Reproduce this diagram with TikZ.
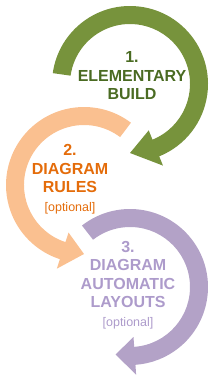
\documentclass[tikz,border=0pt]{standalone}
\usepackage{fontspec}
\setmainfont{Liberation Sans}
\usetikzlibrary{positioning}
\definecolor{buildring}{HTML}{77933C}
\definecolor{buildtext}{HTML}{4A6B22}
\definecolor{rulesring}{HTML}{FAC090}
\definecolor{rulestext}{HTML}{E46C0A}
\definecolor{layoutring}{HTML}{B3A2C7}
\definecolor{layouttext}{HTML}{AD9BCB}

% ring arrow: colour, centre, start angle, end angle, tip angle
\newcommand{\ringarrow}[5]{%
  \begin{scope}[shift={#2}]
    \fill[#1] (#3:78) arc[start angle=#3, end angle=#4, radius=78]
      -- (#4:88) -- (#5:69) -- (#4:50) -- (#4:60)
      arc[start angle=#4, end angle=#3, radius=60] -- cycle;
  \end{scope}}

\begin{document}
\begin{tikzpicture}[
  x=1pt, y=1pt,
  steplabel/.style={align=center, inner sep=0pt, font=\fontsize{16}{18.5}\selectfont\bfseries},
  optional/.style={font=\fontsize{12.5}{15}\selectfont\mdseries},
]
\useasboundingbox (0,0) rectangle (215,-376);

\ringarrow{buildring}{(130,-84)}{172}{-68}{-90}
\ringarrow{rulesring}{(84,-185)}{53}{252}{270}
\ringarrow{layoutring}{(130,-287)}{128}{-86}{-102}

\node[steplabel, text=buildtext] (build) at (132,-76) {1.\\ELEMENTARY\\BUILD};
\node[steplabel, text=rulestext] (rules) at (70,-179) {2.\\DIAGRAM\\RULES\\{\fontsize{12.5}{15}\selectfont\mdseries [optional]}};
\node[steplabel, text=layouttext] (layouts) at (128,-285) {3.\\DIAGRAM\\AUTOMATIC\\LAYOUTS\\{\fontsize{12.5}{15}\selectfont\mdseries [optional]}};
\end{tikzpicture}
\end{document}
